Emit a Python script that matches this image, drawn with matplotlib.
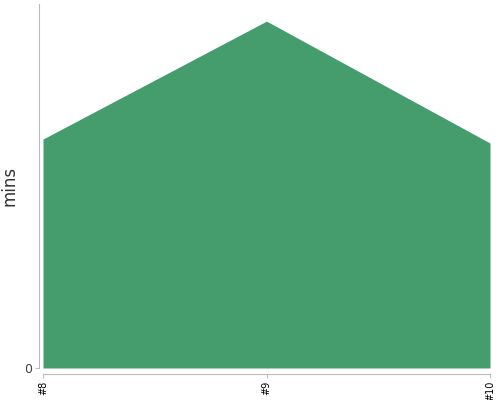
import matplotlib
matplotlib.use('Agg')
from matplotlib import pyplot as plt

runs = ['#8', '#9', '#10']
mins = [62.9, 95.3, 61.8]

fig = plt.figure(figsize=(5, 4), dpi=100)
ax = fig.add_axes([43 / 500, 32 / 400, 447 / 500, 364 / 400])

x = list(range(len(runs)))
ax.fill_between(x, 0, mins, color='#459c6c', linewidth=0)

ax.set_xlim(0, len(runs) - 1)
ax.set_ylim(0, 100)
ax.set_xticks(x)
ax.set_xticklabels(runs)
ax.set_yticks([0])
ax.set_yticklabels(['0'])

for side in ['top', 'right']:
    ax.spines[side].set_visible(False)
ax.spines['left'].set_position(('outward', 3))
ax.spines['bottom'].set_position(('outward', 4))
ax.spines['left'].set_color('#bbbbbb')
ax.spines['bottom'].set_color('#bbbbbb')
ax.tick_params(axis='both', length=3, color='#bbbbbb', pad=2)
ax.tick_params(axis='x', labelsize=7, labelrotation=90)
ax.tick_params(axis='y', labelsize=9, labelcolor='#444444')

ax.set_ylabel('mins', fontsize=12, color='#333333')
ax.yaxis.set_label_coords(-0.055, 0.5)

plt.savefig('out.png')
